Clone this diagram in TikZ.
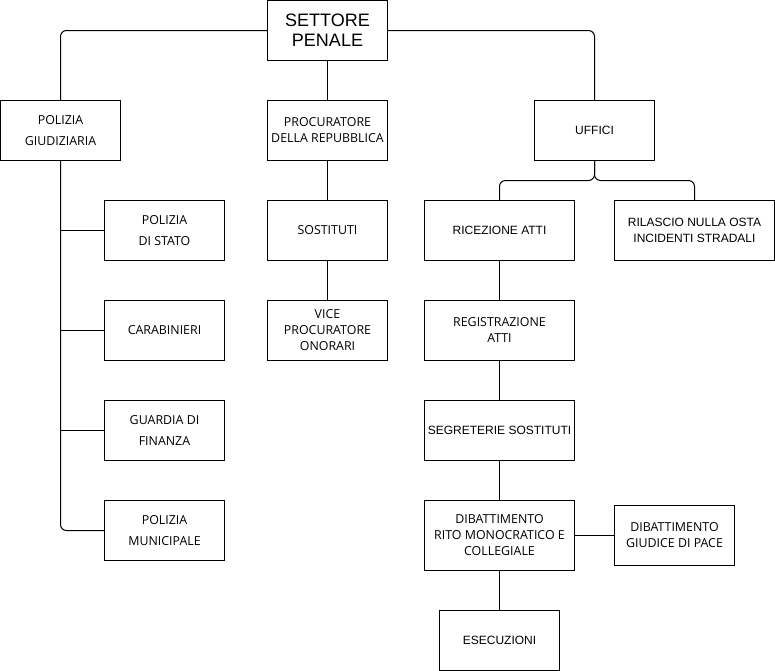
\documentclass[tikz,border=0pt]{standalone}
\usepackage{fontspec}
\setmainfont{Open Sans}
\newfontfamily\arialfont{Liberation Sans}
\usepackage{tikz}

\begin{document}
\begin{tikzpicture}[x=0.75pt,y=-0.75pt]

%
% Styles
%
\tikzstyle{office} = [rectangle,draw=black,line width=0.75pt,minimum width=90pt,minimum height=45pt,inner sep=0pt,align=center,font={\fontsize{9.3}{12}\selectfont}]
\tikzstyle{wide}   = [office,minimum width=112.5pt]
\tikzstyle{spaced} = [font={\fontsize{9.3}{16}\selectfont}]
\tikzstyle{plain}  = [font={\arialfont\fontsize{9}{12}\selectfont}]

\tikzstyle{edge}   = [line width=0.75pt]
\tikzstyle{elbow}  = [edge,rounded corners=4.5pt]

\useasboundingbox (0,0) rectangle (775,671);

\node[office,font={\arialfont\fontsize{13.5}{15}\selectfont}] (set) at (327.5, 30.5) {SETTORE\\PENALE};
\node[office,spaced] (pg)   at ( 60.5,130.5) {POLIZIA\\GIUDIZIARIA};
\node[office]        (proc) at (327.5,130.5) {PROCURATORE\\DELLA REPUBBLICA};
\node[office,plain]  (uff)  at (594.5,130.5) {UFFICI};
\node[office,spaced] (ps)   at (164.5,230.5) {POLIZIA\\DI STATO};
\node[office]        (sost) at (327.5,230.5) {SOSTITUTI};
\node[wide,plain]    (ric)  at (499.5,230.5) {RICEZIONE ATTI};
\node[office,plain,minimum width=120pt] (ril) at (694.5,230.5) {RILASCIO NULLA OSTA\\INCIDENTI STRADALI};
\node[office]        (car)  at (164.5,330.5) {CARABINIERI};
\node[office]        (vice) at (327.5,330.5) {VICE\\PROCURATORE\\ONORARI};
\node[wide]          (reg)  at (499.5,330.5) {REGISTRAZIONE\\ATTI};
\node[office,spaced] (gdf)  at (164.5,430.5) {GUARDIA DI\\FINANZA};
\node[wide,plain]    (seg)  at (499.5,430.5) {SEGRETERIE SOSTITUTI};
\node[office,spaced] (pm)   at (164.5,530.5) {POLIZIA\\MUNICIPALE};
\node[wide,minimum height=52.5pt] (dib) at (499.5,535.5) {DIBATTIMENTO\\RITO MONOCRATICO E\\COLLEGIALE};
\node[office]        (gdp)  at (674.5,535.5) {DIBATTIMENTO\\GIUDICE DI PACE};
\node[office,plain]  (ese)  at (499.5,640.5) {ESECUZIONI};

\coordinate (split) at (594.5,180.5);

\draw[elbow] (set.west) -| (pg.north);
\draw[edge]  (set) -- (proc);
\draw[elbow] (set.east) -| (uff.north);
\draw[elbow] (uff.south) -- (split) -| (ric.north);
\draw[elbow] (uff.south) -- (split) -| (ril.north);
\draw[edge]  (pg.south) |- (ps.west);
\draw[edge]  (pg.south) |- (car.west);
\draw[edge]  (pg.south) |- (gdf.west);
\draw[elbow] (pg.south) |- (pm.west);
\draw[edge]  (proc) -- (sost);
\draw[edge]  (sost) -- (vice);
\draw[edge]  (ric) -- (reg);
\draw[edge]  (reg) -- (seg);
\draw[edge]  (seg) -- (dib);
\draw[edge]  (dib) -- (ese);
\draw[edge]  (dib) -- (gdp);

\end{tikzpicture}
\end{document}
